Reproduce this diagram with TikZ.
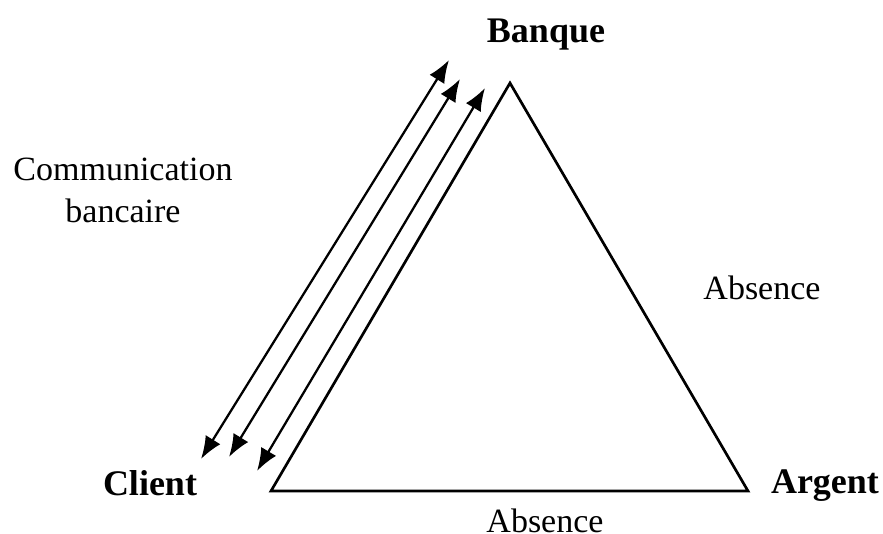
\documentclass[tikz,border=0pt]{standalone}
\usepackage{fontspec}
\setmainfont{Liberation Serif}
\usetikzlibrary{arrows.meta}
\begin{document}
\begin{tikzpicture}[x=0.75pt,y=-0.75pt,
  edge/.style={line width=2pt},
  dbl/.style={line width=1.7pt,{Latex[length=17pt,width=13pt]}-{Latex[length=17pt,width=13pt]}},
  lbl/.style={font=\fontsize{25.5}{31}\selectfont,inner sep=0pt,align=center},
  blbl/.style={font=\fontsize{27}{31}\selectfont\bfseries,inner sep=0pt}]
\useasboundingbox (0,0) rectangle (883,533);
\coordinate (T) at (510,83);
\coordinate (L) at (271,491);
\coordinate (R) at (748,491);
\draw[edge,line join=miter] (T) -- (L) -- (R) -- cycle;
\coordinate (a1) at (449,60);
\coordinate (b1) at (201,459);
\coordinate (a2) at (460,79);
\coordinate (b2) at (229,457);
\coordinate (a3) at (485,88);
\coordinate (b3) at (257,471);
\draw[dbl] (b1) -- (a1);
\draw[dbl] (b2) -- (a2);
\draw[dbl] (b3) -- (a3);
\node[blbl,anchor=base] (banque) at (546,42) {Banque};
\node[blbl,anchor=base] (client) at (150,495) {Client};
\node[blbl,anchor=base] (argent) at (825,493) {Argent};
\node[lbl,anchor=base] (comm1) at (123,180) {Communication};
\node[lbl,anchor=base] (comm2) at (123,222) {bancaire};
\node[lbl,anchor=base] (abs1) at (762,299) {Absence};
\node[lbl,anchor=base] (abs2) at (545,532) {Absence};
\end{tikzpicture}
\end{document}
